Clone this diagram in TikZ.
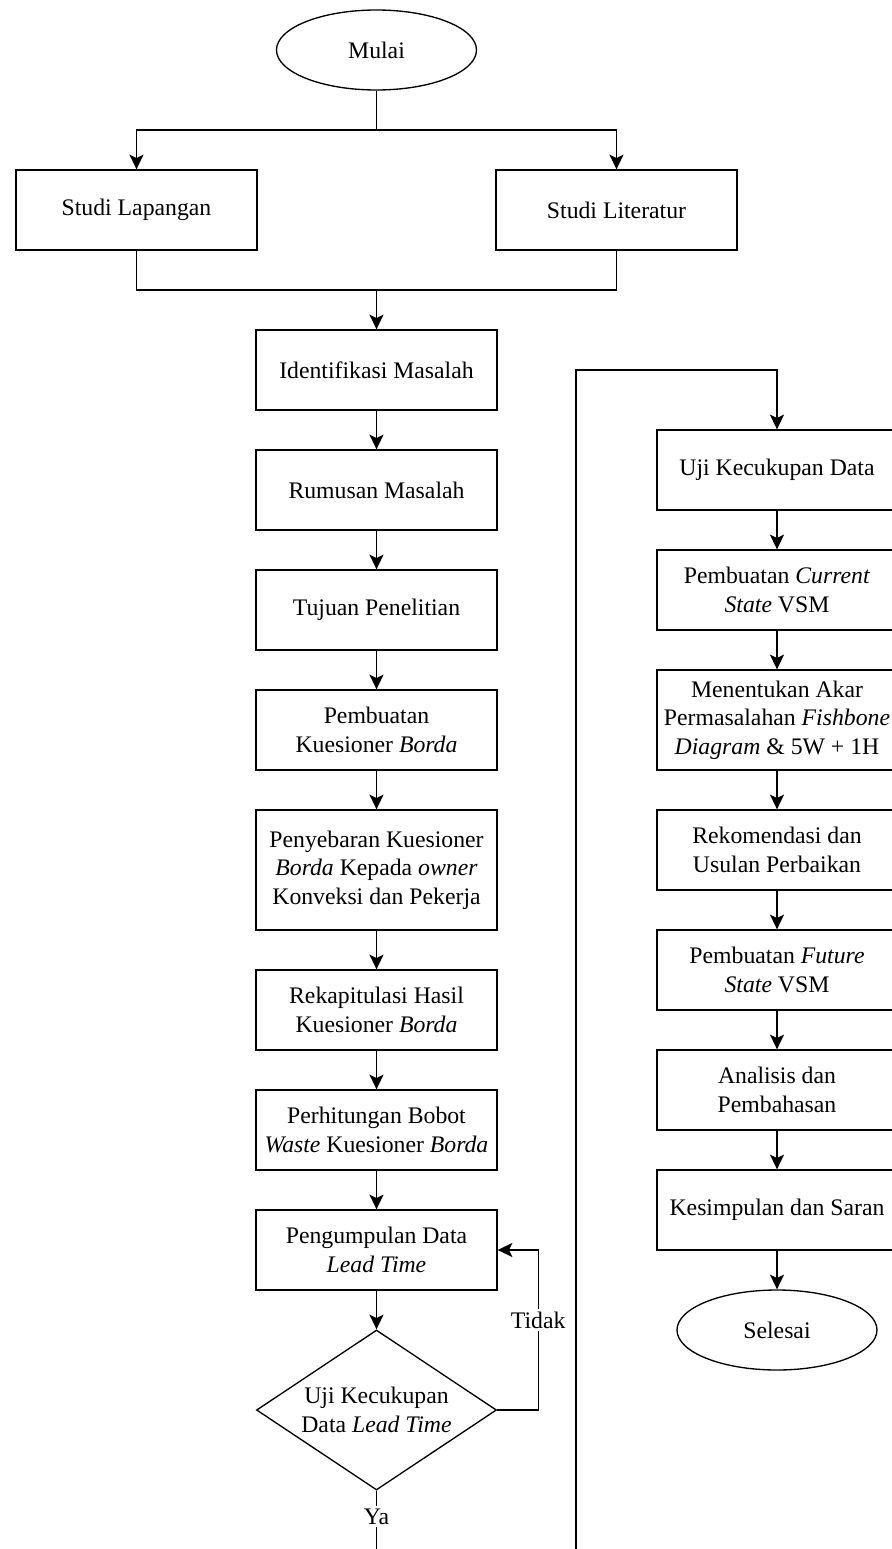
\documentclass[tikz,border=0pt]{standalone}
\usepackage{fontspec}
\setmainfont{Liberation Serif}
\usetikzlibrary{arrows.meta,shapes.geometric,calc}

\begin{document}
\begin{tikzpicture}[
            x=0.75pt, y=-0.75pt,
            >=Stealth,
            textfont/.style={font=\fontsize{17.8pt}{21.4pt}\selectfont},
            terminal/.style={ellipse, draw=black, line width=1pt, align=center, minimum width=150pt, minimum height=60pt, inner sep=0pt, textfont},
            process/.style={rectangle, draw=black, line width=1pt, align=center, minimum width=180.75pt, minimum height=60pt, inner sep=1pt, textfont},
            decision/.style={diamond, draw=black, line width=1pt, align=center, aspect=1.5, minimum width=180pt, minimum height=120pt, inner sep=0pt, textfont},
            label/.style={fill=white, inner sep=2pt, textfont},
            line/.style={line width=1pt},
            arrow/.style={-{Stealth[length=11pt, width=10.5pt, inset=2.5pt]}, line width=1pt}
        ]
        \useasboundingbox (0,0) rectangle (892,1549);

        % start and the two studies
        \node[terminal] (start) at (376.5,50) {Mulai};
        \node[process] (lapangan) at (136.5,210) {Studi Lapangan};
        \node[process] (literatur) at (616.5,210) {Studi Literatur};

        % left column
        \node[process] (identifikasi) at (376.5,370) {Identifikasi Masalah};
        \node[process] (rumusan) at (376.5,490) {Rumusan Masalah};
        \node[process] (tujuan) at (376.5,610) {Tujuan Penelitian};
        \node[process] (buatkues) at (376.5,730) {Pembuatan\\Kuesioner \textit{Borda}};
        \node[process, minimum height=90pt] (sebar) at (376.5,870) {Penyebaran Kuesioner\\\textit{Borda} Kepada \textit{owner}\\Konveksi dan Pekerja};
        \node[process] (rekap) at (376.5,1010) {Rekapitulasi Hasil\\Kuesioner \textit{Borda}};
        \node[process] (hitung) at (376.5,1130) {Perhitungan Bobot\\\textit{Waste} Kuesioner \textit{Borda}};
        \node[process] (kumpul) at (376.5,1250) {Pengumpulan Data\\\textit{Lead Time}};
        \node[decision] (ujilt) at (376.5,1410) {Uji Kecukupan\\Data \textit{Lead Time}};

        % right column
        \node[process, minimum width=180pt] (ujidata) at (777,470) {Uji Kecukupan Data};
        \node[process, minimum width=180pt] (current) at (777,590) {Pembuatan \textit{Current}\\\textit{State} VSM};
        \node[process, minimum width=180pt, minimum height=75pt] (akar) at (777,720) {Menentukan Akar\\Permasalahan \textit{Fishbone}\\\textit{Diagram} \& 5W + 1H};
        \node[process, minimum width=180pt] (rekom) at (777,850) {Rekomendasi dan\\Usulan Perbaikan};
        \node[process, minimum width=180pt] (future) at (777,970) {Pembuatan \textit{Future}\\\textit{State} VSM};
        \node[process, minimum width=180pt] (analisis) at (777,1090) {Analisis dan\\Pembahasan};
        \node[process, minimum width=180pt] (simpulan) at (777,1210) {Kesimpulan dan Saran};
        \node[terminal] (finish) at (777,1330) {Selesai};

        \coordinate (split) at (376.5,130);
        \coordinate (join) at (376.5,290);
        \coordinate (loopbot) at (376.5,1620);
        \coordinate (looptop) at (576,370);

        \draw[line] (start) -- (split);
        \draw[arrow] (split) -| (lapangan.north);
        \draw[arrow] (split) -| (literatur.north);
        \draw[line] (lapangan) |- (join);
        \draw[line] (literatur) |- (join);
        \draw[arrow] (join) -- (identifikasi);

        \foreach \a/\b in {identifikasi/rumusan, rumusan/tujuan, tujuan/buatkues, buatkues/sebar, sebar/rekap, rekap/hitung, hitung/kumpul, kumpul/ujilt}
            \draw[arrow] (\a) -- (\b);

        \draw[arrow] (ujilt.east) -- ++(41,0) |- node[pos=0.28, label] {Tidak} (kumpul.east);
        \draw[arrow] (ujilt.south) -- node[pos=0.2, label] {Ya} (loopbot) -| (looptop) -| (ujidata.north);

        \foreach \a/\b in {ujidata/current, current/akar, akar/rekom, rekom/future, future/analisis, analisis/simpulan, simpulan/finish}
            \draw[arrow] (\a) -- (\b);
    \end{tikzpicture}
\end{document}
